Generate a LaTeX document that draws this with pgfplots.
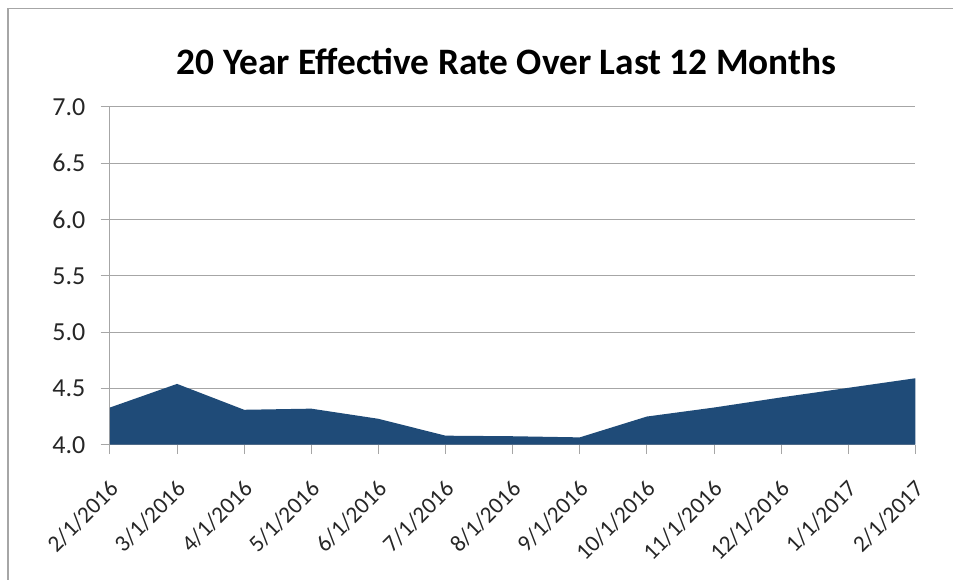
\documentclass[border=0pt]{standalone}
\usepackage{fontspec}
\setmainfont{Carlito}
\usepackage{pgfplots}
\pgfplotsset{compat=1.18}
\definecolor{areablue}{HTML}{1F4B78}
\definecolor{gridgray}{HTML}{A6A6A6}
\begin{document}
\begin{tikzpicture}
\begin{axis}[
  scale only axis,
  width=604.5pt, height=253.5pt,
  xmin=0, xmax=12, ymin=4, ymax=7,
  xtick={0,...,12},
  xticklabels={2/1/2016,3/1/2016,4/1/2016,5/1/2016,6/1/2016,7/1/2016,8/1/2016,9/1/2016,10/1/2016,11/1/2016,12/1/2016,1/1/2017,2/1/2017},
  ytick={4,4.5,...,7},
  axis x line*=bottom, axis y line*=left,
  axis line style={draw=gridgray, line width=0.75pt, -},
  ymajorgrids, grid style={draw=gridgray, line width=0.75pt},
  tick style={draw=gridgray, line width=0.75pt},
  tick align=outside, major tick length=7pt,
  /pgf/number format/assume math mode=true,
  /pgf/number format/fixed, /pgf/number format/fixed zerofill, /pgf/number format/precision=1,
  yticklabel style={font=\fontsize{19.5}{22}\selectfont, text=black!85, xshift=-8pt},
  xticklabel style={font=\fontsize{17.5}{20}\selectfont, text=black!85, rotate=45, anchor=east, xshift=-10.8pt, yshift=-18.8pt},
  clip=true,
]
\addplot[fill=areablue, draw=none] coordinates {
 (0,4.33) (1,4.54) (2,4.31) (3,4.32) (4,4.23) (5,4.08) (6,4.075) (7,4.065) (8,4.25) (9,4.33) (10,4.42) (11,4.505) (12,4.59)
} \closedcycle;
\end{axis}
\node[font=\bfseries\fontsize{28}{32}\selectfont, anchor=center] at ([xshift=-4.5pt, yshift=33.75pt]current axis.north) {20 Year Effective Rate Over Last 12 Months};
\draw[gridgray, line width=1pt] ([xshift=-76.5pt, yshift=-101.25pt]current axis.south west) -- ([xshift=-76.5pt, yshift=73.9pt]current axis.north west) -- ([xshift=28.5pt, yshift=73.9pt]current axis.north east);
\path ([xshift=-82.5pt, yshift=-101.25pt]current axis.south west) rectangle ([xshift=28.5pt, yshift=80.25pt]current axis.north east);
\end{tikzpicture}
\end{document}
